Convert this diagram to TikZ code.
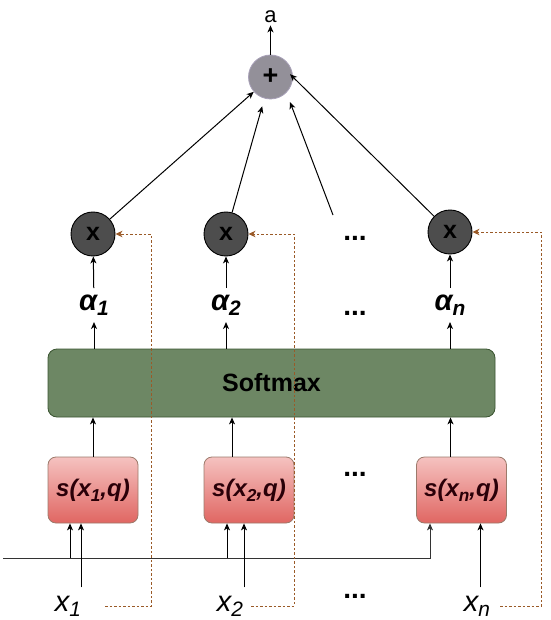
\documentclass[tikz,border=0pt]{standalone}
\usepackage{fontspec}
\setmainfont{Liberation Sans}
\usetikzlibrary{arrows.meta,shadings}
\definecolor{fbc}{HTML}{9A5A28}
\definecolor{softfill}{HTML}{6D8764}
\definecolor{softdraw}{HTML}{3A5431}
\definecolor{stop}{HTML}{F5C2C0}
\definecolor{sbot}{HTML}{E06662}
\definecolor{sdraw}{HTML}{9C7A6B}
\definecolor{stext}{HTML}{2A0008}
\definecolor{plusfill}{HTML}{939099}
\definecolor{plusdraw}{HTML}{A8A0B8}
\definecolor{multfill}{HTML}{4D4D4D}
\definecolor{qline}{HTML}{333333}
\newcommand{\lowsub}[1]{\raisebox{-0.38ex}{\scalebox{0.72}{#1}}}
\begin{document}
\begin{tikzpicture}[x=1pt,y=-1pt,
  arr/.style={-{Stealth[length=7pt,width=6pt,inset=2pt]}, line width=1pt, black},
  fb/.style={draw=fbc, dash pattern=on 2.5pt off 2pt, line width=1pt,
     -{Stealth[length=7pt,width=6.5pt,inset=2pt,fill=fbc,color=fbc]}},
  plusnode/.style={circle, minimum size=44pt, inner sep=0pt, fill=plusfill, draw=plusdraw, line width=0.8pt,
     font=\fontsize{27}{27}\selectfont\bfseries},
  multnode/.style={circle, minimum size=44pt, inner sep=0pt, fill=multfill, draw=black, line width=0.9pt,
     font=\fontsize{25}{25}\selectfont\bfseries},
  softbox/.style={rectangle, rounded corners=9pt, fill=softfill, draw=softdraw, line width=0.8pt,
     minimum width=447pt, minimum height=68pt, font=\fontsize{25}{25}\selectfont\bfseries},
  sbox/.style={rectangle, rounded corners=8pt, top color=stop, bottom color=sbot, draw=sdraw, line width=0.8pt,
     minimum width=90pt, minimum height=66pt, inner sep=0pt, text=stext,
     font=\fontsize{24}{24}\selectfont\bfseries\itshape},
  alab/.style={anchor=base, inner xsep=2pt, inner ysep=6pt, font=\fontsize{29}{29}\selectfont\bfseries\itshape},
  xlab/.style={anchor=base, inner xsep=2pt, inner ysep=8pt, font=\fontsize{29}{29}\selectfont\itshape},
  dotlab/.style={anchor=base, inner sep=0pt, font=\fontsize{28}{28}\selectfont\bfseries},
]
\useasboundingbox (0,0) rectangle (550,620);

% top
\node[plusnode] (plus) at (270.5,77) {+};
\node[anchor=base, inner sep=2pt, font=\fontsize{22}{22}\selectfont] (a) at (270.5,23) {a};
\draw[arr] (plus) -- (a);

% multiplication nodes
\node[multnode] (m1) at (93,234) {x};
\node[multnode] (m2) at (226,234) {x};
\node[multnode] (mn) at (450,232) {x};

% dots
\node[dotlab] (d1) at (355,240) {...};
\node[dotlab] (d2) at (355,315) {...};
\node[dotlab] (d3) at (355,476) {...};
\node[dotlab] (d4) at (355,598) {...};

% connectors into plus
\coordinate (dd0) at (333,215);
\coordinate (dd1) at (290,102);
\draw[arr] (m1) -- (plus);
\draw[arr, shorten >=8pt] (m2) -- (plus);
\draw[arr] (dd0) -- (dd1);
\draw[arr, shorten >=-4pt] (mn) -- (plus.east);

% alpha labels
\node[alab] (al1) at (94,310) {α\lowsub{1}};
\node[alab] (al2) at (226,310) {α\lowsub{2}};
\node[alab] (aln) at (450,310) {α\lowsub{n}};

% softmax
\node[softbox] (soft) at (271.5,383) {Softmax};

\draw[arr] (al1 |- soft.north) -- (al1);
\draw[arr] (al2 |- soft.north) -- (al2);
\draw[arr] (aln |- soft.north) -- (aln);
\draw[arr] (al1) -- (m1);
\draw[arr] (al2) -- (m2);
\draw[arr] (aln) -- (mn);

% score boxes
\node[sbox] (s1) at (93,490) {s(x\lowsub{1},q)};
\node[sbox] (s2) at (249,490) {s(x\lowsub{2},q)};
\node[sbox] (sn) at (461.5,490) {s(x\lowsub{n},q)};

\draw[arr] (s1.north) -- (s1.north |- soft.south);
\draw[arr] ([xshift=-17pt]s2.north) -- ([xshift=-17pt]s2.north |- soft.south);
\draw[arr] ([xshift=-11pt]sn.north) -- ([xshift=-11pt]sn.north |- soft.south);

% inputs
\node[xlab] (x1) at (68,611) {x\lowsub{1}};
\node[xlab] (x2) at (230,611) {x\lowsub{2}};
\node[xlab] (xn) at (477,611) {x\lowsub{n}};

% query line
\coordinate (q0) at (3,558);
\draw[arr, draw=qline] (q0) -| ([xshift=-31.5pt]sn.south);
\draw[arr] ([xshift=-23pt]s1.south |- q0) -- ([xshift=-23pt]s1.south);
\draw[arr] ([xshift=-22pt]s2.south |- q0) -- ([xshift=-22pt]s2.south);

\draw[arr] ([xshift=-12pt]s1.south |- x1.north) -- ([xshift=-12pt]s1.south);
\draw[arr] ([xshift=-5pt]s2.south |- x2.north) -- ([xshift=-5pt]s2.south);
\draw[arr] ([xshift=19pt]sn.south |- xn.north) -- ([xshift=19pt]sn.south);

% feedback dashed lines
\coordinate (f1s) at (105,606);
\coordinate (f1v) at (151,606);
\coordinate (f2s) at (251,606);
\coordinate (f2v) at (294,606);
\coordinate (fns) at (500,606);
\coordinate (fnv) at (541,606);
\draw[fb] (f1s) -- (f1v) -- (f1v |- m1.east) -- (m1.east);
\draw[fb] (f2s) -- (f2v) -- (f2v |- m2.east) -- (m2.east);
\draw[fb] (fns) -- (fnv) -- (fnv |- mn.east) -- (mn.east);
\end{tikzpicture}
\end{document}
